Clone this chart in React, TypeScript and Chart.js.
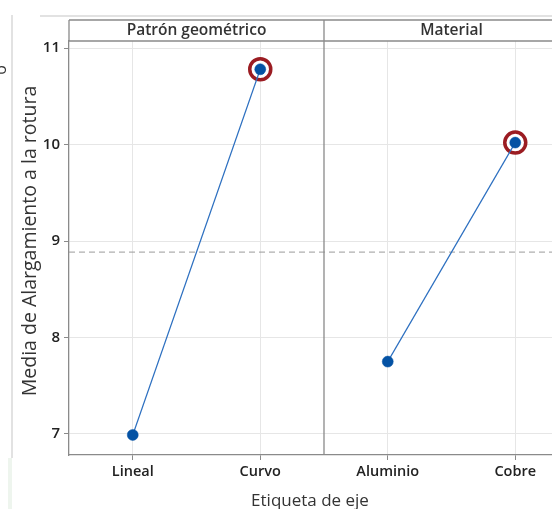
import { useEffect, useRef } from "react";
import { Chart, registerables } from "chart.js";

Chart.register(...registerables);

// ---- Data ----
const categories = ["Lineal", "Curvo", "Aluminio", "Cobre"];
const panelTitles = ["Patrón geométrico", "Material"];
const patronValues = [6.99, 10.78];
const materialValues = [7.75, 10.02];
const highlightIdx = [1, 3];
const grandMean = 8.885;
const yTickValues = [7, 8, 9, 10, 11];
const yMin = 6.782;
const yMax = 11.073;
const xTitle = "Etiqueta de eje";
const yTitle = "Media de Alargamiento a la rotura";

const FONT = "'Open Sans', 'Noto Sans', 'DejaVu Sans', sans-serif";

export default function App() {
  const ref = useRef<HTMLCanvasElement>(null);

  useEffect(() => {
    const canvas = ref.current!;
    const allValues = [...patronValues, ...materialValues];

    const framePlugin = {
      id: "frame",
      afterDraw(chart: any) {
        const { ctx, chartArea } = chart;
        const xs = chart.scales.x;
        const left = chartArea.left;
        const right = chartArea.right;
        const top = chartArea.top;
        const bottom = chartArea.bottom;
        const headerTop = 20;
        ctx.save();
        // outer screenshot artifacts
        ctx.strokeStyle = "#e2e2e2";
        ctx.lineWidth = 2;
        ctx.beginPath();
        ctx.moveTo(40, 16);
        ctx.lineTo(600, 16);
        ctx.moveTo(12, 15);
        ctx.lineTo(12, 458);
        ctx.stroke();
        ctx.fillStyle = "#eef5ee";
        ctx.fillRect(8, 458, 4, 51);
        ctx.save();
        ctx.translate(1, 70);
        ctx.rotate(-Math.PI / 2);
        ctx.fillStyle = "#333";
        ctx.font = `16px ${FONT}`;
        ctx.textAlign = "center";
        ctx.textBaseline = "middle";
        ctx.fillText("o", 0, 0);
        ctx.restore();

        // header strip
        ctx.strokeStyle = "#8a8a8a";
        ctx.lineWidth = 1.3;
        ctx.beginPath();
        ctx.moveTo(left, headerTop);
        ctx.lineTo(right + 10, headerTop);
        ctx.moveTo(left, top);
        ctx.lineTo(right + 10, top);
        ctx.moveTo(left, headerTop);
        ctx.lineTo(left, top);
        const divX = xs.getPixelForValue(1.5);
        ctx.moveTo(divX, headerTop);
        ctx.lineTo(divX, bottom);
        ctx.stroke();

        // panel titles
        ctx.fillStyle = "#333";
        ctx.font = `600 15.5px ${FONT}`;
        ctx.textAlign = "center";
        ctx.textBaseline = "middle";
        const p1 = (xs.getPixelForValue(-0.5) + xs.getPixelForValue(1.5)) / 2;
        const p2 = (xs.getPixelForValue(1.5) + xs.getPixelForValue(3.5)) / 2;
        ctx.fillText(panelTitles[0], p1, 31);
        ctx.fillText(panelTitles[1], p2, 31);

        // axis titles
        ctx.font = `17px ${FONT}`;
        ctx.fillStyle = "#333";
        ctx.fillText(xTitle, 310, 501);
        ctx.save();
        ctx.font = `19.5px ${FONT}`;
        ctx.translate(30, 241);
        ctx.rotate(-Math.PI / 2);
        ctx.fillText(yTitle, 0, 0);
        ctx.restore();
        ctx.restore();
      },
    };

    const chart = new Chart(canvas, {
      type: "line",
      data: {
        datasets: [
          {
            data: patronValues.map((v, i) => ({ x: i, y: v })),
            borderColor: "#2c6fc0",
            borderWidth: 1.2,
            pointRadius: 5.5,
            pointBackgroundColor: "#0452a4",
            pointBorderColor: "#0452a4",
            pointBorderWidth: 0.5,
            order: 1,
          },
          {
            data: materialValues.map((v, i) => ({ x: i + patronValues.length, y: v })),
            borderColor: "#2c6fc0",
            borderWidth: 1.2,
            pointRadius: 5.5,
            pointBackgroundColor: "#0452a4",
            pointBorderColor: "#0452a4",
            pointBorderWidth: 0.5,
            order: 1,
          },
          {
            data: highlightIdx.map((i) => ({ x: i, y: allValues[i] })),
            showLine: false,
            pointRadius: 10.5,
            pointBorderWidth: 3.5,
            pointBorderColor: "#9b1c22",
            pointBackgroundColor: "#ffffff",
            order: 3,
          },
          {
            data: [
              { x: -0.5, y: grandMean },
              { x: 3.5, y: grandMean },
            ],
            borderColor: "#9a9a9a",
            borderWidth: 1,
            borderDash: [6, 4],
            pointRadius: 0,
            order: 4,
          },
        ],
      },
      options: {
        responsive: false,
        animation: false,
        events: [],
        layout: { padding: { top: 41, right: 21, left: 0, bottom: 0 } },
        plugins: { legend: { display: false }, tooltip: { enabled: false } },
        scales: {
          x: {
            type: "linear",
            min: -0.5,
            max: 3.5,
            afterBuildTicks: (s: any) => {
              s.ticks = categories.map((_, i) => ({ value: i }));
            },
            afterFit: (s: any) => {
              s.height = 54;
            },
            ticks: {
              autoSkip: false,
              maxRotation: 0,
              padding: 3,
              color: "#222",
              font: { family: FONT, size: 14.5, weight: "600" },
              callback: (v: any) => categories[v] ?? "",
            },
            grid: { color: "#e6e6e6", tickColor: "#8a8a8a", tickLength: 5 },
            border: { color: "#8a8a8a", width: 1.3 },
          },
          y: {
            min: yMin,
            max: yMax,
            afterBuildTicks: (s: any) => {
              s.ticks = yTickValues.map((v) => ({ value: v }));
            },
            afterFit: (s: any) => {
              s.width = 69;
            },
            ticks: {
              padding: 4,
              color: "#222",
              font: { family: FONT, size: 15, weight: "600" },
            },
            grid: { color: "#e6e6e6", tickColor: "#8a8a8a", tickLength: 5 },
            border: { color: "#8a8a8a", width: 1.3 },
          },
        },
      },
      plugins: [framePlugin],
    });
    return () => chart.destroy();
  }, []);

  return (
    <div
      style={{
        position: "absolute",
        left: 0,
        top: 0,
        width: 552,
        height: 509,
        overflow: "hidden",
        background: "#fff",
      }}
    >
      <canvas ref={ref} width={600} height={509} style={{ display: "block" }} />
    </div>
  );
}
